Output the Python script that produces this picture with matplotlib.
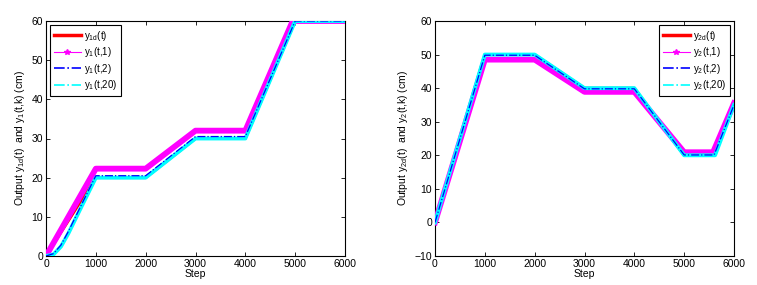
import matplotlib
matplotlib.use("Agg")
import matplotlib.pyplot as plt
from matplotlib.lines import Line2D

plt.rcParams["font.family"] = ["Liberation Sans", "DejaVu Sans"]
plt.rcParams["mathtext.fontset"] = "custom"
plt.rcParams["mathtext.rm"] = "Liberation Sans"
plt.rcParams["mathtext.it"] = "Liberation Sans"

# left panel: output 1 (breakpoints)
x1d = [0, 1000, 2000, 3000, 4000, 5000, 6000]
y1d = [0, 20, 20, 30, 30, 60, 60]
x1_k1 = [0, 1000, 2000, 3000, 4000, 4950, 6000]
y1_k1 = [0, 22.3, 22.3, 32, 32, 60, 60]
x1_k2 = [0, 150, 300, 450, 700, 1000, 2000, 3000, 4000, 5000, 6000]
y1_k2 = [0, 0.6, 2.8, 6.3, 12.8, 20.5, 20.5, 30.5, 30.5, 60, 60]
x1_k20 = [0, 150, 300, 450, 700, 1000, 2000, 3000, 4000, 5000, 6000]
y1_k20 = [0, 0.4, 2.4, 5.8, 12.3, 20, 20, 30, 30, 60, 60]

# right panel: output 2
x2d = [0, 1000, 2000, 3000, 4000, 5000, 5600, 6000]
y2d = [0, 50, 50, 40, 40, 20, 20, 35]
x2_k1 = [0, 1000, 2000, 3000, 4000, 5000, 5580, 6000]
y2_k1 = [0, 48.5, 48.5, 38.9, 38.9, 20.9, 20.9, 35.5]
x2_k2 = [0, 1000, 2000, 3000, 4000, 5000, 5600, 6000]
y2_k2 = [0, 49.8, 49.8, 39.8, 39.8, 20.1, 20.1, 35]
x2_k20 = [0, 1000, 2000, 3000, 4000, 5000, 5620, 6000]
y2_k20 = [0, 50, 50, 40, 40, 20, 20, 35]

fig = plt.figure(figsize=(7.57, 2.85), dpi=100)
ax1 = fig.add_axes([46 / 757, 29 / 285, 299 / 757, 235 / 285])
ax2 = fig.add_axes([435 / 757, 29 / 285, 299 / 757, 235 / 285])


def draw(ax, d, k1, k2, k20, n):
    ax.plot(d[0], d[1], color="red", lw=2.0, zorder=2)
    ax.plot(k1[0], k1[1], color="magenta", lw=4.2, zorder=3)
    ax.plot(k20[0], k20[1], color="cyan", lw=2.8, zorder=4)
    ax.plot(k2[0], k2[1], color="blue", lw=0.9, ls="-.", zorder=5)
    handles = [
        Line2D([], [], color="red", lw=2.5),
        Line2D([], [], color="magenta", lw=0.8, marker="*", ms=4),
        Line2D([], [], color="blue", lw=1.2, ls="-."),
        Line2D([], [], color="cyan", lw=1.2, ls="-."),
    ]
    labels = [
        "y$_{\\rm %dd}$(t)" % n,
        "y$_{\\rm %d}$(t,1)" % n,
        "y$_{\\rm %d}$(t,2)" % n,
        "y$_{\\rm %d}$(t,20)" % n,
    ]
    return handles, labels


leg_kw = dict(fontsize=7, fancybox=False, edgecolor="black", framealpha=1,
              borderpad=0.4, handlelength=2.8, labelspacing=0.25, handletextpad=0.3,
              borderaxespad=0.4)
h, l = draw(ax1, (x1d, y1d), (x1_k1, y1_k1), (x1_k2, y1_k2), (x1_k20, y1_k20), 1)
ax1.legend(h, l, loc="upper left", **leg_kw).get_frame().set_linewidth(0.8)
h, l = draw(ax2, (x2d, y2d), (x2_k1, y2_k1), (x2_k2, y2_k2), (x2_k20, y2_k20), 2)
ax2.legend(h, l, loc="upper right", **leg_kw).get_frame().set_linewidth(0.8)

ax1.set_ylim(0, 60)
ax2.set_ylim(-10, 60)
for ax in (ax1, ax2):
    ax.set_xlim(0, 6000)
    ax.set_xticks(range(0, 6001, 1000))
    ax.tick_params(direction="in", top=True, right=True, labelsize=7.5, length=3, width=0.6, pad=2)
    for s in ax.spines.values():
        s.set_linewidth(0.8)
    ax.set_xlabel("Step", fontsize=7.5, labelpad=0)
ax1.set_yticks(range(0, 61, 10))
ax2.set_yticks(range(-10, 61, 10))
ax1.set_ylabel("Output y$_{\\rm 1d}$(t)  and y$_{\\rm 1}$(t,k) (cm)", fontsize=7.5, labelpad=3)
ax2.set_ylabel("Output y$_{\\rm 2d}$(t)  and y$_{\\rm 2}$(t,k) (cm)", fontsize=7.5, labelpad=3)

fig.savefig("out.png", dpi=100)
